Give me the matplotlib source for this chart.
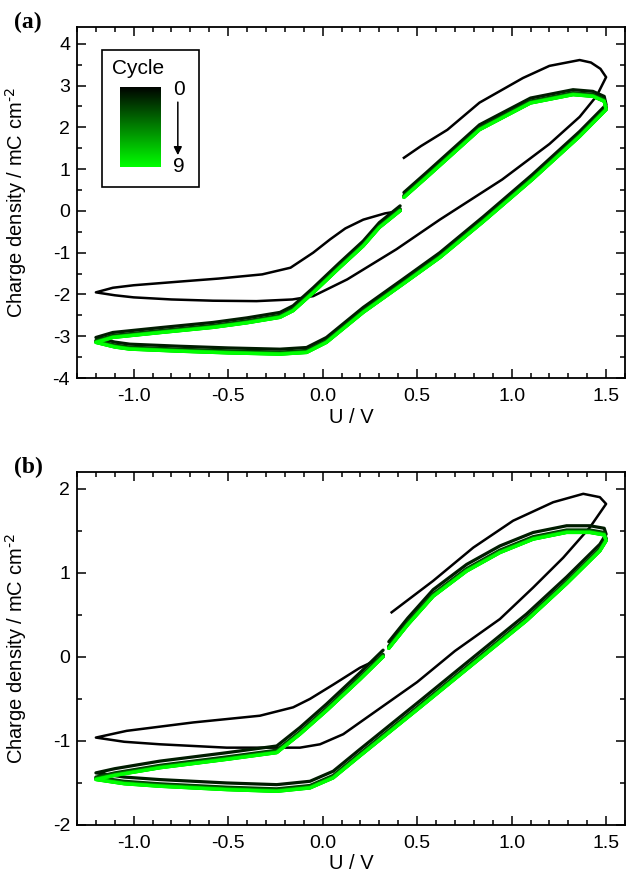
import matplotlib
matplotlib.use("Agg")
import matplotlib.pyplot as plt
import numpy as np
from matplotlib.colors import LinearSegmentedColormap
from matplotlib.patches import Rectangle
from matplotlib.ticker import MultipleLocator

plt.rcParams['font.family'] = ['Liberation Sans', 'DejaVu Sans']
plt.rcParams['axes.unicode_minus'] = False

# --- Data ---
# panel (a), cycle 0 (black): start at 0.41 V, sweep to -1.2 V, up to 1.5 V, back
u0_a = [0.41, 0.33, 0.215, 0.12, 0.04, -0.05, -0.17, -0.32, -0.55, -0.75, -1.0, -1.11, -1.2,
        -1.1, -1.0, -0.8, -0.58, -0.35, -0.16, -0.05, 0.13, 0.39, 0.62, 0.95, 1.2, 1.36, 1.45, 1.5,
        1.47, 1.42, 1.36, 1.2, 1.06, 0.83, 0.66, 0.52, 0.43]
q0_a = [0.0, -0.06, -0.21, -0.42, -0.68, -1.0, -1.36, -1.52, -1.62, -1.69, -1.78, -1.84, -1.95,
        -2.02, -2.07, -2.12, -2.15, -2.16, -2.12, -2.04, -1.64, -0.92, -0.21, 0.75, 1.6, 2.25, 2.75, 3.2,
        3.4, 3.55, 3.61, 3.47, 3.18, 2.59, 1.94, 1.55, 1.27]
# panel (a), cycle 9 (bright green)
u9_a = [0.41, 0.30, 0.215, 0.09, -0.05, -0.156, -0.226, -0.4, -0.58, -0.85, -1.11, -1.2,
        -1.1, -1.02, -0.755, -0.5, -0.226, -0.085, 0.02, 0.215, 0.42, 0.62, 0.85, 1.11, 1.36, 1.5,
        1.49, 1.43, 1.325, 1.1, 0.83, 0.55, 0.43]
q9_a = [0.0, -0.40, -0.84, -1.36, -1.96, -2.39, -2.55, -2.68, -2.79, -2.91, -3.03, -3.15,
        -3.26, -3.31, -3.36, -3.40, -3.43, -3.39, -3.15, -2.43, -1.77, -1.12, -0.26, 0.75, 1.78, 2.42,
        2.62, 2.74, 2.78, 2.58, 1.94, 0.80, 0.32]
# vertical offset of cycles 1..8 relative to cycle 9
shift_a = [0.12, 0.05, 0.03, 0.02, 0.015, 0.01, 0.005, 0.0]

# panel (b), cycle 0
u0_b = [0.32, 0.197, 0.056, -0.067, -0.156, -0.332, -0.685, -1.037, -1.2,
        -1.05, -0.861, -0.508, -0.243, -0.12, -0.014, 0.109, 0.197, 0.5, 0.7, 0.938, 1.114, 1.273, 1.414, 1.5,
        1.467, 1.379, 1.22, 1.008, 0.797, 0.585, 0.365]
q0_b = [0.0, -0.13, -0.33, -0.50, -0.60, -0.70, -0.78, -0.88, -0.96,
        -1.01, -1.04, -1.08, -1.08, -1.08, -1.04, -0.92, -0.78, -0.30, 0.07, 0.45, 0.825, 1.18, 1.54, 1.82,
        1.90, 1.94, 1.84, 1.62, 1.30, 0.905, 0.53]
# panel (b), cycle 9
u9_b = [0.32, 0.197, 0.021, -0.12, -0.243, -0.508, -0.861, -1.1, -1.2,
        -1.05, -0.861, -0.508, -0.243, -0.067, 0.056, 0.197, 0.5, 0.8, 1.079, 1.291, 1.467, 1.5,
        1.49, 1.414, 1.291, 1.114, 0.938, 0.762, 0.585, 0.45, 0.35]
q9_b = [0.0, -0.27, -0.64, -0.92, -1.14, -1.22, -1.32, -1.41, -1.46,
        -1.51, -1.54, -1.58, -1.60, -1.56, -1.44, -1.18, -0.63, -0.08, 0.43, 0.87, 1.26, 1.38,
        1.45, 1.48, 1.48, 1.40, 1.24, 1.02, 0.72, 0.38, 0.10]
shift_b = [0.08, 0.03, 0.02, 0.012, 0.008, 0.005, 0.003, 0.0]

cycle_labels = ['0', '9']

green = LinearSegmentedColormap.from_list('cyc', ['#000000', '#00ff00'])

fig = plt.figure(figsize=(6.27, 8.83), dpi=100)
ax_a = fig.add_axes([0.1228, 0.5719, 0.874, 0.3975])
ax_b = fig.add_axes([0.1228, 0.0657, 0.874, 0.3998])


def draw_panel(ax, u0, q0, u9, q9, shifts, ylim):
    ax.plot(u0, q0, color='k', lw=1.8, solid_joinstyle='round', zorder=3)
    for k in range(1, 10):
        dq = shifts[k - 1] if k < 9 else 0.0
        ax.plot(u9, np.array(q9) + dq, color=green(k / 9), lw=2.3,
                solid_joinstyle='round', solid_capstyle='round', zorder=3)
    ax.set_xlim(-1.3, 1.6)
    ax.set_ylim(*ylim)
    ax.xaxis.set_major_locator(MultipleLocator(0.5))
    ax.xaxis.set_minor_locator(MultipleLocator(0.1))
    ax.yaxis.set_major_locator(MultipleLocator(1))
    ax.yaxis.set_minor_locator(MultipleLocator(0.5))
    ax.tick_params(which='both', direction='in', top=True, right=True, width=1.1)
    ax.tick_params(which='major', length=6.5, labelsize=14)
    ax.tick_params(axis='x', which='major', pad=7)
    ax.tick_params(axis='y', which='major', pad=5)
    ax.tick_params(which='minor', length=3.6)
    for s in ax.spines.values():
        s.set_linewidth(1.3)
    ax.set_xlabel('U / V', fontsize=14.5, labelpad=2)
    ax.set_ylabel(r'Charge density / mC cm$^{\text{-2}}$', fontsize=14.5)
    ax.yaxis.set_label_coords(-0.088, 0.5)


draw_panel(ax_a, u0_a, q0_a, u9_a, q9_a, shift_a, (-4, 4.4))
draw_panel(ax_b, u0_b, q0_b, u9_b, q9_b, shift_b, (-2, 2.2))

# --- cycle legend with colour gradient ---
ax_a.add_patch(Rectangle((0.045, 0.545), 0.178, 0.389, transform=ax_a.transAxes,
                         facecolor='white', edgecolor='black', lw=1.2, zorder=4))
cax = ax_a.inset_axes([0.0785, 0.602, 0.0742, 0.228])
cax.imshow(np.linspace(0, 1, 256).reshape(-1, 1), cmap=green, aspect='auto')
cax.axis('off')
ax_a.text(0.112, 0.883, 'Cycle', transform=ax_a.transAxes, fontsize=15,
          ha='center', va='center', zorder=6)
ax_a.text(0.186, 0.822, cycle_labels[0], transform=ax_a.transAxes, fontsize=15,
          ha='center', va='center', zorder=6)
ax_a.text(0.186, 0.603, cycle_labels[1], transform=ax_a.transAxes, fontsize=15,
          ha='center', va='center', zorder=6)
ax_a.annotate('', xy=(0.184, 0.635), xytext=(0.184, 0.786), xycoords='axes fraction',
              arrowprops=dict(arrowstyle='-|>', color='k', lw=1.1, mutation_scale=12,
                              shrinkA=0, shrinkB=0), zorder=6)

fig.text(0.022, 0.968, '(a)', family='Liberation Serif', weight='bold', fontsize=17)
fig.text(0.022, 0.464, '(b)', family='Liberation Serif', weight='bold', fontsize=17)

fig.savefig('out.png', dpi=100)
